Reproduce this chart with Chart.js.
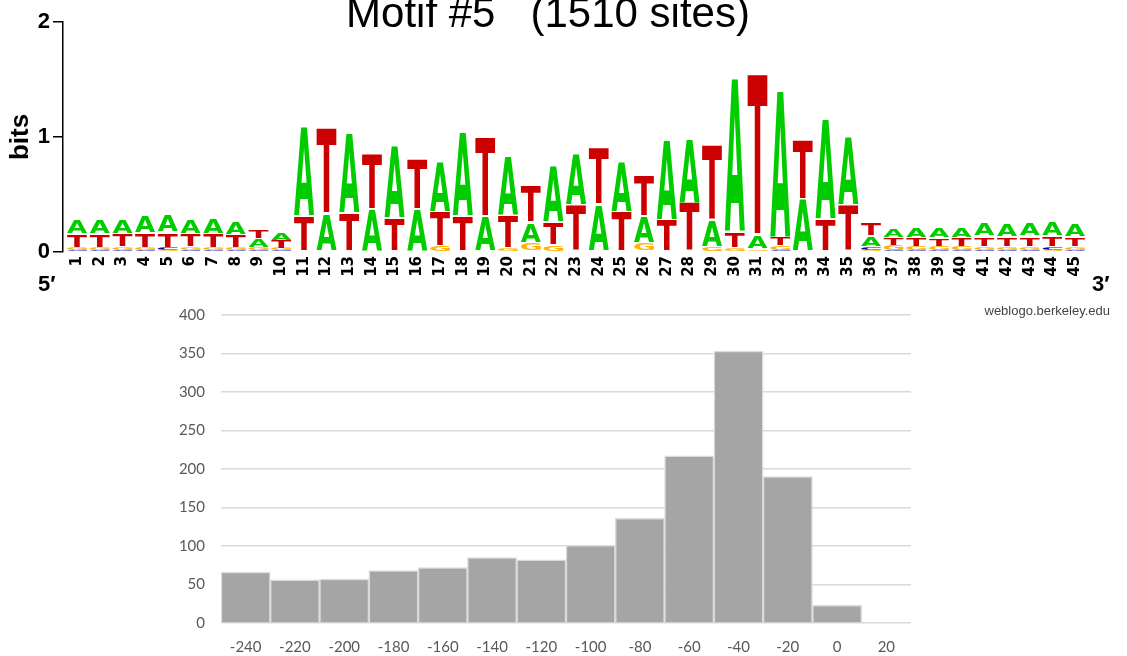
<!DOCTYPE html>
<html>
<head>
<meta charset="utf-8">
<script src="https://cdn.jsdelivr.net/npm/chart.js@4.4.0/dist/chart.umd.min.js"></script>
<style>
  html, body { margin: 0; padding: 0; background: #fff; }
  #wrap { position: relative; width: 1127px; height: 656px; overflow: hidden; }
  canvas { position: absolute; left: 0; }
  #histChart { top: 290px; }
  #logoChart { top: 0; }
</style>
</head>
<body>
<div id="wrap">
  <canvas id="histChart" width="1127" height="366"></canvas>
  <canvas id="logoChart" width="1127" height="330"></canvas>
</div>
<script>
// ---- sequence logo (bits per letter at each motif position) ----
const positions = [
   1,  2,  3,  4,  5,  6,  7,  8,  9, 10, 11, 12, 13, 14, 15,
  16, 17, 18, 19, 20, 21, 22, 23, 24, 25, 26, 27, 28, 29, 30,
  31, 32, 33, 34, 35, 36, 37, 38, 39, 40, 41, 42, 43, 44, 45
];
const bitsA = [
  0.13, 0.13, 0.13, 0.15, 0.155, 0.13, 0.14, 0.12, 0.08, 0.07,
  0.78, 0.33, 0.69, 0.37, 0.63, 0.37, 0.43, 0.73, 0.31, 0.52,
  0.18, 0.49, 0.45, 0.41, 0.43, 0.23, 0.69, 0.56, 0.23, 1.33,
  0.12, 1.27, 0.46, 0.86, 0.59, 0.10, 0.08, 0.10, 0.10, 0.10,
  0.12, 0.12, 0.12, 0.125, 0.115
];
const bitsC = [
  0.015, 0.015, 0.015, 0.015, 0.02, 0.015, 0.015, 0.015, 0.015, 0.015,
  0, 0, 0, 0, 0, 0, 0.01, 0, 0, 0.01,
  0.01, 0.01, 0, 0, 0, 0.01, 0, 0, 0.01, 0.01,
  0.01, 0.02, 0, 0, 0, 0.025, 0.015, 0.015, 0.015, 0.015,
  0.02, 0.015, 0.02, 0.025, 0.015
];
const bitsG = [
  0.02, 0.02, 0.025, 0.02, 0.015, 0.025, 0.02, 0.02, 0.02, 0.02,
  0, 0, 0, 0, 0, 0, 0.04, 0, 0, 0.02,
  0.07, 0.05, 0, 0, 0, 0.07, 0, 0, 0.03, 0.02,
  0.015, 0.03, 0, 0, 0, 0.015, 0.04, 0.03, 0.03, 0.03,
  0.025, 0.025, 0.025, 0.02, 0.025
];
const bitsT = [
  0.12, 0.12, 0.12, 0.13, 0.135, 0.12, 0.125, 0.115, 0.085, 0.065,
  0.31, 0.75, 0.34, 0.48, 0.30, 0.44, 0.30, 0.31, 0.69, 0.29,
  0.33, 0.20, 0.41, 0.50, 0.35, 0.36, 0.28, 0.43, 0.66, 0.14,
  1.40, 0.08, 0.52, 0.29, 0.41, 0.12, 0.07, 0.08, 0.075, 0.08,
  0.09, 0.09, 0.09, 0.095, 0.09
];
const bitTicks = [0, 1, 2];

// ---- histogram of site positions ----
const binLabels = ['-240', '-220', '-200', '-180', '-160', '-140', '-120',
                   '-100', '-80', '-60', '-40', '-20', '0', '20'];
const binCounts = [66, 56, 57, 68, 72, 85, 82, 101, 136, 217, 353, 190, 23, 0];
const countTicks = [0, 50, 100, 150, 200, 250, 300, 350, 400];

const letterBits = { A: bitsA, C: bitsC, G: bitsG, T: bitsT };
const letterColors = { A: '#00cc00', C: '#0000cc', G: '#ffb300', T: '#cc0000' };

// each column is stacked with the smallest letter at the bottom, largest on top
const columnOrder = positions.map((p, i) =>
  Object.keys(letterBits)
    .map(l => ({ letter: l, bits: letterBits[l][i] }))
    .sort((a, b) => a.bits - b.bits)
);

const rankDatasets = [0, 1, 2, 3].map(rank => ({
  data: positions.map((p, i) => ({ x: p, y: columnOrder[i][rank].bits })),
  letters: positions.map((p, i) => columnOrder[i][rank].letter),
  backgroundColor: 'rgba(0,0,0,0)',
  borderWidth: 0,
  barPercentage: 0.88,
  categoryPercentage: 1
}));

// draws a letter stretched to fill the box of one stacked bar
function drawGlyph(ctx, ch, left, top, w, h) {
  ctx.save();
  ctx.font = 'bold 200px "DejaVu Sans", sans-serif';
  ctx.textAlign = 'left';
  ctx.textBaseline = 'alphabetic';
  const m = ctx.measureText(ch);
  const gw = m.actualBoundingBoxLeft + m.actualBoundingBoxRight;
  const gh = m.actualBoundingBoxAscent + m.actualBoundingBoxDescent;
  const pad = h > 8 ? 1 : 0;
  ctx.translate(left, top + pad);
  ctx.scale(w / gw, (h - 2 * pad) / gh);
  ctx.fillStyle = letterColors[ch];
  ctx.fillText(ch, m.actualBoundingBoxLeft, m.actualBoundingBoxAscent);
  ctx.restore();
}

const glyphPlugin = {
  id: 'glyphs',
  afterDatasetsDraw(chart) {
    const ctx = chart.ctx;
    chart.data.datasets.forEach((ds, di) => {
      chart.getDatasetMeta(di).data.forEach((bar, j) => {
        const { x, y, base, width } = bar.getProps(['x', 'y', 'base', 'width'], true);
        const h = base - y;
        if (h < 0.5) return;
        drawGlyph(ctx, ds.letters[j], x - width / 2, y, width, h);
      });
    });
  }
};

// title, strand ends and credit line around the logo
const logoText = {
  id: 'logoText',
  afterDraw(chart) {
    const ctx = chart.ctx;
    ctx.save();
    ctx.fillStyle = '#000';
    ctx.textBaseline = 'alphabetic';
    ctx.textAlign = 'center';
    ctx.font = '42px "Liberation Sans", Arial, sans-serif';
    ctx.fillText('Motif #5   (1510 sites)', 548, 27);
    ctx.textAlign = 'left';
    ctx.font = 'bold 22px "Liberation Sans", Arial, sans-serif';
    ctx.fillText('5\u2032', 38, 291);
    ctx.fillText('3\u2032', 1092, 291);
    ctx.textAlign = 'right';
    ctx.fillStyle = '#444';
    ctx.font = '13px "Liberation Sans", Arial, sans-serif';
    ctx.fillText('weblogo.berkeley.edu', 1110, 315);
    ctx.restore();
  }
};

new Chart(document.getElementById('logoChart'), {
  type: 'bar',
  data: { datasets: rankDatasets },
  options: {
    responsive: false,
    animation: false,
    events: [],
    layout: { padding: { left: 0, right: 40, top: 22, bottom: 0 } },
    plugins: { legend: { display: false }, tooltip: { enabled: false } },
    scales: {
      x: {
        type: 'linear',
        stacked: true,
        offset: false,
        min: 0.38,
        max: 45.53,
        afterBuildTicks: s => { s.ticks = positions.map(v => ({ value: v })); },
        afterFit: s => { s.height = 78; },
        grid: { display: false },
        border: { display: false },
        ticks: {
          autoSkip: false,
          maxRotation: 90,
          minRotation: 90,
          padding: -4,
          color: '#000',
          font: { family: '"DejaVu Sans"', weight: 'bold', size: 15 }
        }
      },
      y: {
        stacked: true,
        min: 0,
        max: 2,
        afterBuildTicks: s => { s.ticks = bitTicks.map(v => ({ value: v })); },
        afterFit: s => { s.width = 63; },
        grid: { drawOnChartArea: false, drawTicks: true, tickLength: 10, color: '#000', lineWidth: 1.5 },
        border: { display: true, color: '#000', width: 1.5 },
        ticks: {
          padding: 3,
          color: '#000',
          font: { family: '"Liberation Sans"', weight: 'bold', size: 22 }
        },
        title: {
          display: true,
          text: 'bits',
          color: '#000',
          padding: { top: 5, bottom: 0 },
          font: { family: '"Liberation Sans"', weight: 'bold', size: 26 }
        }
      }
    }
  },
  plugins: [glyphPlugin, logoText]
});

new Chart(document.getElementById('histChart'), {
  type: 'bar',
  data: {
    labels: binLabels,
    datasets: [{
      data: binCounts,
      backgroundColor: '#a5a5a5',
      borderColor: '#dadada',
      borderWidth: 1.5,
      barPercentage: 1,
      categoryPercentage: 1
    }]
  },
  options: {
    responsive: false,
    animation: false,
    events: [],
    layout: { padding: { left: 0, right: 216, top: 4, bottom: 0 } },
    plugins: { legend: { display: false }, tooltip: { enabled: false } },
    scales: {
      x: {
        afterFit: s => { s.height = 33; },
        grid: { display: false },
        border: { display: false },
        ticks: { padding: 7, color: '#595959', font: { family: 'Lato', size: 15 } }
      },
      y: {
        min: 0,
        max: 400,
        afterBuildTicks: s => { s.ticks = countTicks.map(v => ({ value: v })); },
        afterFit: s => { s.width = 221; },
        grid: { drawTicks: false, color: '#d9d9d9', lineWidth: 1.5 },
        border: { display: false },
        ticks: { padding: 16, color: '#595959', font: { family: 'Lato', size: 15 } }
      }
    }
  }
});
</script>
</body>
</html>
